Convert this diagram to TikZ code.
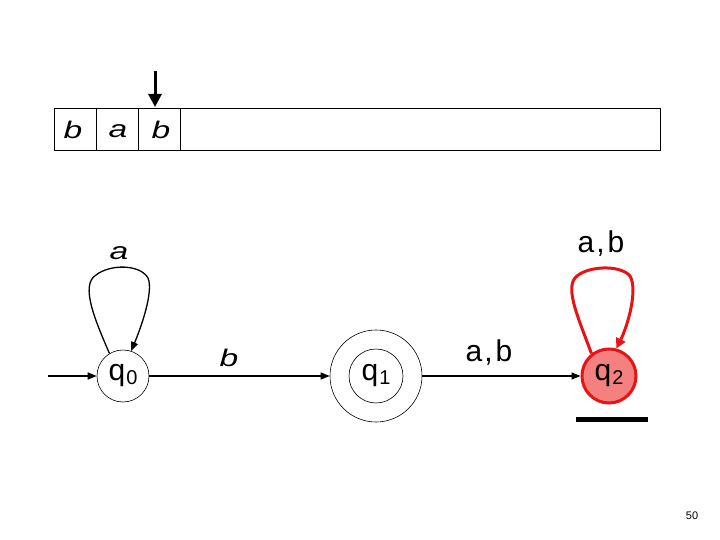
\documentclass[tikz,border=0pt]{standalone}
\usepackage{fontspec}
\setmainfont{Liberation Sans}
\usetikzlibrary{arrows.meta}
\definecolor{qred}{RGB}{230,20,20}
\definecolor{qfill}{RGB}{244,128,128}
\newcommand{\stq}[1]{q\kern1pt\raisebox{-4pt}{\fontsize{20}{20}\selectfont #1}}
\newcommand{\wid}[1]{\scalebox{1.4}[1]{#1}}
\newcommand{\ab}{a\kern2pt,\kern3pt b}
\begin{document}
\begin{tikzpicture}[x=1pt,y=-1pt,
  state/.style={circle,draw,line width=0.6pt,minimum size=52pt,inner sep=0pt,font=\fontsize{30}{30}\selectfont},
  edge/.style={line width=1.3pt,-{Triangle[length=9pt,width=7pt]}},
  lbl/.style={font=\fontsize{30}{30}\selectfont},
  lbli/.style={font=\fontsize{24}{24}\selectfont\itshape},
  tapel/.style={font=\fontsize{24}{24}\selectfont\itshape}]
\useasboundingbox (0,0) rectangle (720,540);
% tape
\draw[line width=0.6pt] (54,108) rectangle (660,150);
\draw[line width=0.6pt] (96,108) -- (96,150) (138,108) -- (138,150) (180,108) -- (180,150);
\node[tapel] (t1) at (73,130) {\wid{b}};
\node[tapel] (t2) at (118,131) {\wid{a}};
\node[tapel] (t3) at (161,130) {\wid{b}};
\coordinate (headtop) at (155,71);
\coordinate (headbot) at (155,107);
\draw[line width=3pt,-{Triangle[length=13pt,width=13pt]}] (headtop) -- (headbot);
% states
\node[state] (q0) at (123,376) {\stq{0}};
\node[state,minimum size=54pt] (q1) at (376,376) {\stq{1}};
\node[circle,draw,line width=0.6pt,minimum size=92pt] (q1o) at (376,376) {};
\node[state,draw=qred,fill=qfill,line width=3pt,minimum size=54pt] (q2) at (609,376) {\stq{2}};
% start
\coordinate (start) at (48,376);
\draw[edge] (start) -- (q0);
% edges
\draw[edge] (q0) -- (q1o);
\node[lbli] (lb) at (229,358) {\wid{b}};
\draw[edge] (q1o) -- (q2);
\node[lbl] (lab) at (489,353) {\ab};
% loop q0
\draw[edge] (q0.121) .. controls (95,320) and (80,285) .. (96,275)
   .. controls (110,264) and (140,264) .. (148,278)
   .. controls (154,292) and (140,330) .. (q0.72);
\node[lbli] (la) at (119,253) {\wid{a}};
% loop q2
\draw[line width=3pt,draw=qred,-{Triangle[length=10pt,width=10pt]}] (q2.128) .. controls (580,322) and (565,290) .. (575,278)
   .. controls (585,266) and (620,264) .. (630,276)
   .. controls (638,290) and (628,325) .. (q2.75);
\node[lbl] (lab2) at (601,244) {\ab};
% underline
\coordinate (u1) at (576,419);
\coordinate (u2) at (648,419);
\draw[line width=5pt] (u1) -- (u2);
% page number
\node[font=\fontsize{11}{11}\selectfont] (pn) at (692,516) {50};
\end{tikzpicture}
\end{document}
